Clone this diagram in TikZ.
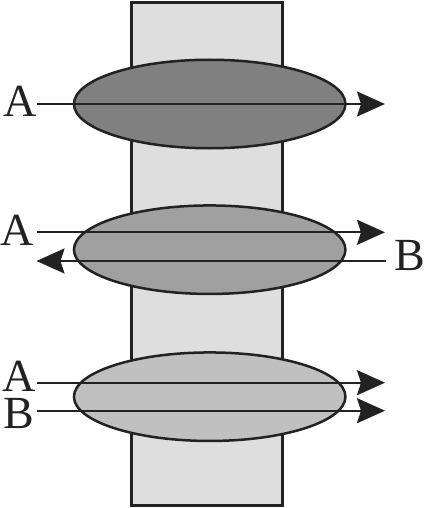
\documentclass[tikz,border=0pt]{standalone}
\usepackage{fontspec}
\setmainfont{Liberation Serif}
\usetikzlibrary{shapes.geometric,arrows.meta}
\definecolor{ink}{HTML}{222222}
\definecolor{bandfill}{HTML}{DEDEDE}
\definecolor{darkfill}{HTML}{808080}
\definecolor{midfill}{HTML}{A0A0A0}
\definecolor{lightfill}{HTML}{C0C0C0}
\tikzset{
  blob/.style={ellipse, draw=ink, line width=2.5pt, inner sep=0pt,
    minimum width=271.5pt, minimum height=88.5pt},
  ray/.style={draw=ink, line width=2.2pt,
    -{Stealth[length=28pt,width=25pt,inset=4pt]}},
  lbl/.style={anchor=base, inner sep=0pt, text=ink, font=\fontsize{46}{48}\selectfont}
}
\begin{document}
\begin{tikzpicture}[x=1pt,y=-1pt]
\useasboundingbox (0,0) rectangle (425,508);
\draw[draw=ink, fill=bandfill, line width=3pt] (131,2.5) rectangle (282,505);
% ellipses
\node[blob, fill=darkfill] (e1) at (209.7,104) {};
\node[blob, fill=midfill] (e2) at (209.7,249.7) {};
\node[blob, fill=lightfill] (e3) at (209.7,396.7) {};
% arrow endpoints
\coordinate (a1s) at (37,104);   \coordinate (a1e) at (385,104);
\coordinate (a2s) at (37,232.3); \coordinate (a2e) at (385,232.3);
\coordinate (b2s) at (386,261);  \coordinate (b2e) at (36.5,261);
\coordinate (a3s) at (37,382.7); \coordinate (a3e) at (385,382.7);
\coordinate (b3s) at (37,410.7); \coordinate (b3e) at (385,410.7);
\draw[ray] (a1s) -- (a1e);
\draw[ray] (a2s) -- (a2e);
\draw[ray] (b2s) -- (b2e);
\draw[ray] (a3s) -- (a3e);
\draw[ray] (b3s) -- (b3e);
% labels
\node[lbl] (la1) at (20.5,117) {A};
\node[lbl] (la2) at (17.5,245) {A};
\node[lbl] (lb2) at (410,270) {B};
\node[lbl] (la3) at (19.5,391) {A};
\node[lbl] (lb3) at (18.5,428) {B};
\end{tikzpicture}
\end{document}
